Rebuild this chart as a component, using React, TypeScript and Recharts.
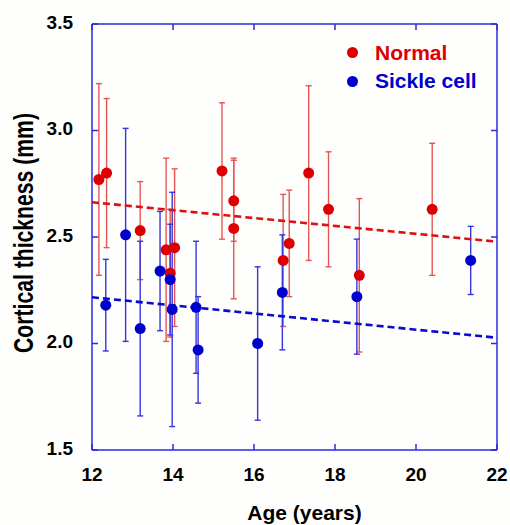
import React from 'react';
import { ScatterChart, Scatter, XAxis, YAxis, ErrorBar } from 'recharts';

const FONT = '"Liberation Sans", Arial, sans-serif';

// Normal group: age, cortical thickness (mm), error bar half-length
const normalAge = [12.17, 12.36, 13.19, 13.83, 14.04, 13.93, 15.21, 15.5, 15.5, 16.72, 16.87, 17.35, 17.84, 18.6, 20.4];
const normalThick = [2.77, 2.8, 2.53, 2.44, 2.45, 2.33, 2.81, 2.67, 2.54, 2.39, 2.47, 2.8, 2.63, 2.32, 2.63];
const normalErr = [0.45, 0.35, 0.23, 0.43, 0.37, 0.3, 0.32, 0.19, 0.33, 0.31, 0.25, 0.41, 0.27, 0.36, 0.31];

// Sickle cell group
const sickleAge = [12.34, 12.83, 13.19, 13.68, 13.93, 13.98, 14.57, 14.62, 16.09, 16.7, 18.54, 21.35];
const sickleThick = [2.18, 2.51, 2.07, 2.34, 2.3, 2.16, 2.17, 1.97, 2.0, 2.24, 2.22, 2.39];
const sickleErr = [0.215, 0.5, 0.41, 0.28, 0.26, 0.55, 0.31, 0.25, 0.36, 0.27, 0.27, 0.16];

// regression lines (end points)
const trendAge = [12, 22];
const normalTrend = [2.663, 2.478];
const sickleTrend = [2.217, 2.027];

const xTicks = [12, 14, 16, 18, 20, 22];
const yTicks = [1.5, 2.0, 2.5, 3.0, 3.5];

const legendItems = [
  { name: 'Normal', color: '#dd0000' },
  { name: 'Sickle cell', color: '#0000cc' },
];

const RED = '#dd0000';
const BLUE = '#0000cc';
const AXIS = '#2a2ae0';
const TICK = 6;

// chart layout
const W = 510;
const H = 525;
const MARGIN = { top: 24, right: 13, bottom: 0, left: 0 };
const Y_AXIS_W = 92;
const X_AXIS_H = 75;
const PW = W - MARGIN.left - MARGIN.right - Y_AXIS_W; // plot width
const PH = H - MARGIN.top - MARGIN.bottom - X_AXIS_H; // plot height
const GAP = 20; // tick label gap (tickSize 0)

const toRows = (xs: number[], ys: number[], es?: number[]) =>
  xs.map((x, i) => ({ age: x, thick: ys[i], err: es ? es[i] : 0 }));

const normalData = toRows(normalAge, normalThick, normalErr);
const sickleData = toRows(sickleAge, sickleThick, sickleErr);
const normalLine = toRows(trendAge, normalTrend);
const sickleLine = toRows(trendAge, sickleTrend);

const tickText = { fill: '#000', fontSize: 19, fontWeight: 'bold' as const, fontFamily: FONT };
const lineStyle = { stroke: AXIS, strokeWidth: 1.5 };

// bottom ticks also draw the matching inward tick on the top edge (and the top edge itself once)
const BottomTick = ({ x, y, payload }: any) => {
  const base = y - GAP;
  const top = base - PH;
  return (
    <g>
      <line x1={x} x2={x} y1={base} y2={base - TICK} {...lineStyle} />
      <line x1={x} x2={x} y1={top} y2={top + TICK} {...lineStyle} />
      {payload.value === xTicks[0] && <line x1={x} x2={x + PW} y1={top} y2={top} {...lineStyle} />}
      <text x={x} y={y - 3.5 + 14} textAnchor="middle" {...tickText}>{payload.value}</text>
    </g>
  );
};

// left ticks also draw the inward tick on the right edge (and the right edge itself once)
const LeftTick = ({ x, y, payload }: any) => {
  const base = x + GAP;
  const right = base + PW;
  return (
    <g>
      <line x1={base} x2={base + TICK} y1={y} y2={y} {...lineStyle} />
      <line x1={right} x2={right - TICK} y1={y} y2={y} {...lineStyle} />
      {payload.value === yTicks[0] && <line x1={right} x2={right} y1={y} y2={y - PH} {...lineStyle} />}
      <text x={x + 1} y={y + 4.5} textAnchor="end" {...tickText}>{payload.value.toFixed(1)}</text>
    </g>
  );
};

const YLabel = ({ viewBox }: any) => {
  const cx = viewBox.x + 33;
  const cy = viewBox.y + viewBox.height / 2 - 4;
  return (
    <text
      x={cx}
      y={cy}
      transform={`rotate(-90 ${cx} ${cy})`}
      textAnchor="middle"
      fontFamily={FONT}
      fontWeight="bold"
      fontSize={28}
      textLength={240}
      lengthAdjust="spacingAndGlyphs"
      fill="#000"
    >
      Cortical thickness (mm)
    </text>
  );
};

const XLabel = ({ viewBox }: any) => (
  <text
    x={viewBox.x + viewBox.width / 2 + 10}
    y={viewBox.y + 70}
    textAnchor="middle"
    fontFamily={FONT}
    fontWeight="bold"
    fontSize={21}
    fill="#000"
  >
    Age (years)
  </text>
);

export default function App() {
  return (
    <div style={{ position: 'absolute', left: 0, top: 0, width: W, height: H, background: '#fefefc' }}>
      <ScatterChart width={W} height={H} margin={MARGIN}>
        <XAxis
          xAxisId="bottom"
          type="number"
          dataKey="age"
          domain={[12, 22]}
          ticks={xTicks}
          height={X_AXIS_H}
          stroke={AXIS}
          strokeWidth={1.5}
          tickLine={false}
          tickSize={0}
          tickMargin={GAP}
          tick={<BottomTick />}
          label={<XLabel />}
        />
        <YAxis
          yAxisId="left"
          type="number"
          dataKey="thick"
          domain={[1.5, 3.5]}
          ticks={yTicks}
          width={Y_AXIS_W}
          stroke={AXIS}
          strokeWidth={1.5}
          tickLine={false}
          tickSize={0}
          tickMargin={GAP}
          tick={<LeftTick />}
          label={<YLabel />}
        />
        <Scatter
          xAxisId="bottom"
          yAxisId="left"
          data={normalLine}
          line={{ stroke: '#e01010', strokeWidth: 2.6, strokeDasharray: '7 4' }}
          shape={() => <g />}
          isAnimationActive={false}
        />
        <Scatter
          xAxisId="bottom"
          yAxisId="left"
          data={sickleLine}
          line={{ stroke: '#0a0ad0', strokeWidth: 2.6, strokeDasharray: '7 4' }}
          shape={() => <g />}
          isAnimationActive={false}
        />
        <Scatter
          name="Normal"
          xAxisId="bottom"
          yAxisId="left"
          data={normalData}
          fill={RED}
          shape={(p: any) => <circle cx={p.cx} cy={p.cy} r={5.5} fill={RED} />}
          isAnimationActive={false}
        >
          <ErrorBar dataKey="err" direction="y" width={3} stroke="#e65555" strokeWidth={1.4} isAnimationActive={false} />
        </Scatter>
        <Scatter
          name="Sickle cell"
          xAxisId="bottom"
          yAxisId="left"
          data={sickleData}
          fill={BLUE}
          shape={(p: any) => <circle cx={p.cx} cy={p.cy} r={5.5} fill={BLUE} />}
          isAnimationActive={false}
        >
          <ErrorBar dataKey="err" direction="y" width={3} stroke="#3535dd" strokeWidth={1.4} isAnimationActive={false} />
        </Scatter>
      </ScatterChart>
      <div style={{ position: 'absolute', left: 347, top: 38.5, fontFamily: FONT, fontWeight: 'bold', fontSize: 21 }}>
        {legendItems.map((it) => (
          <div key={it.name} style={{ display: 'flex', alignItems: 'center', height: 28.5 }}>
            <span style={{ width: 11, height: 11, borderRadius: '50%', background: it.color, marginRight: 17 }} />
            <span style={{ color: it.color }}>{it.name}</span>
          </div>
        ))}
      </div>
    </div>
  );
}
